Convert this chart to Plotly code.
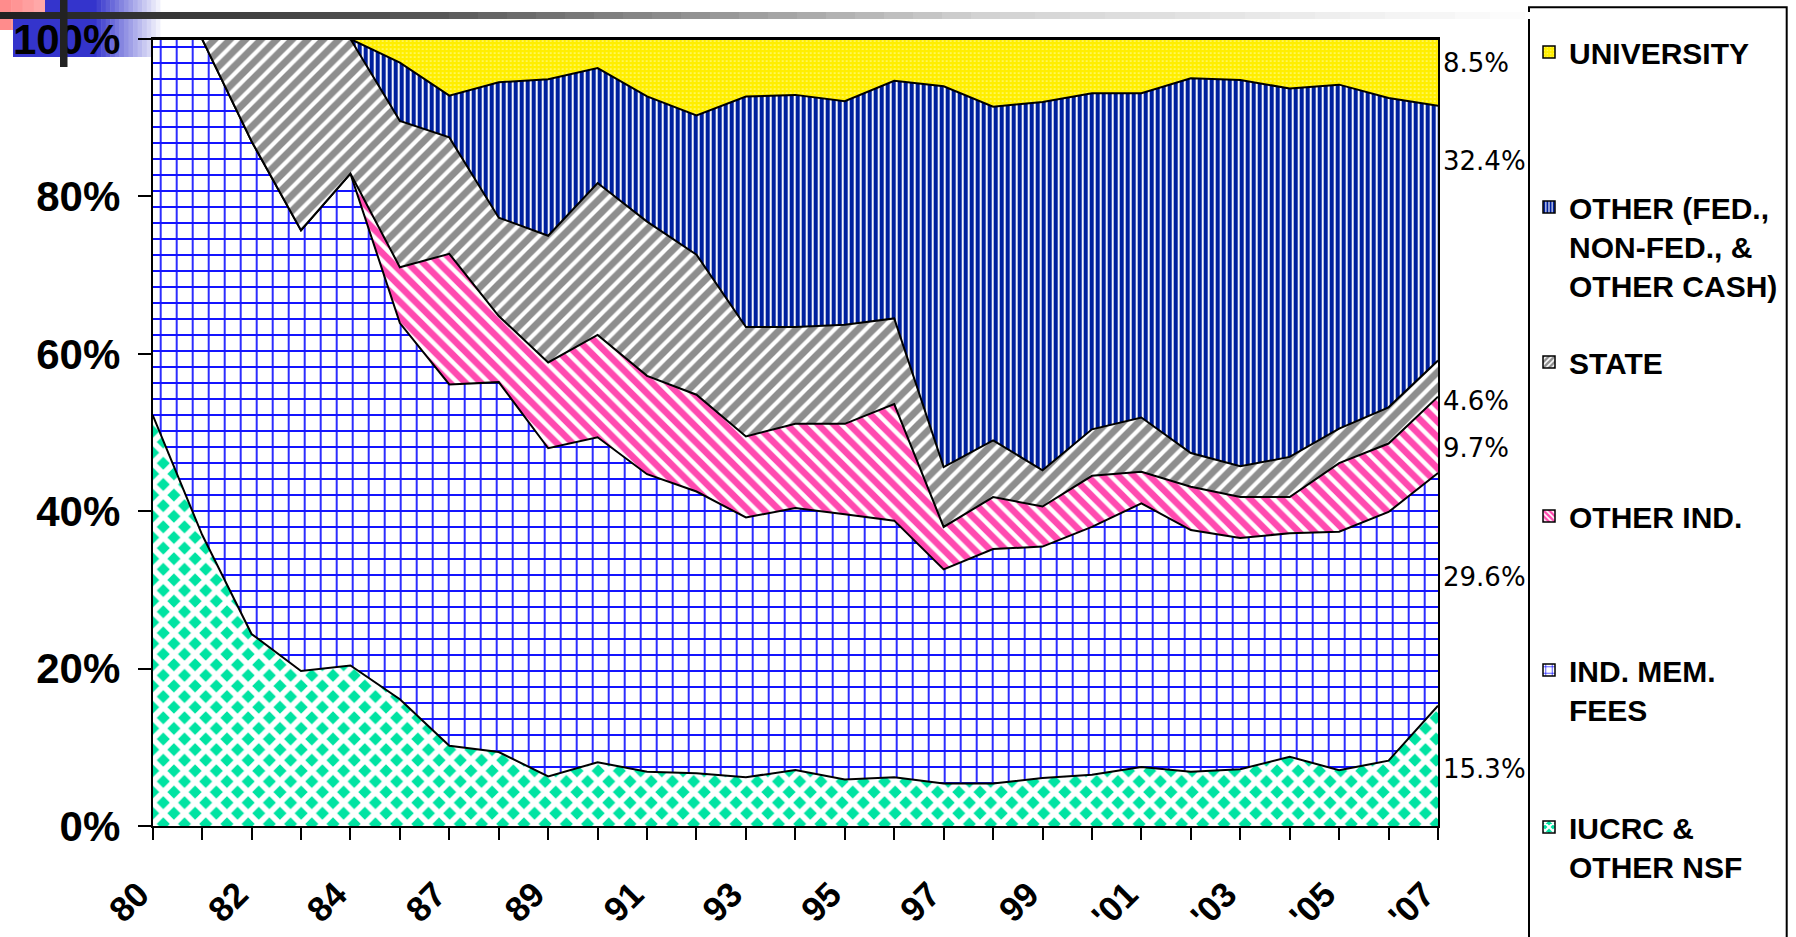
import plotly.graph_objects as go

# ---------------- data (percent of total support) ----------------
years = ["80", "81", "82", "83", "84", "86", "87", "88", "89", "90", "91", "92", "93", "94",
         "95", "96", "97", "98", "99", "'00", "'01", "'02", "'03", "'04", "'05", "'06", "'07"]

iucrc = [52.2, 37.0, 24.4, 19.7, 20.4, 16.1, 10.2, 9.4, 6.3, 8.1, 6.9, 6.7, 6.2, 7.1,
         5.9, 6.2, 5.4, 5.4, 6.1, 6.5, 7.5, 6.9, 7.2, 8.8, 7.1, 8.3, 15.3]
ind_mem = [47.8, 63.0, 62.6, 56.0, 62.5, 47.8, 45.9, 47.0, 41.7, 41.3, 37.8, 35.8, 33.0, 33.3,
           33.7, 32.6, 27.2, 29.8, 29.4, 31.5, 33.5, 30.7, 29.4, 28.4, 30.3, 31.6, 29.6]
other_ind = [0, 0, 0, 0, 0, 7.1, 16.6, 8.4, 10.9, 13.0, 12.5, 12.3, 10.3, 10.7,
             11.5, 14.8, 5.4, 6.6, 5.1, 6.5, 4.0, 5.5, 5.2, 4.6, 8.7, 8.7, 9.7]
state = [0, 0, 13.0, 24.3, 17.1, 18.6, 14.8, 12.5, 16.1, 19.3, 19.6, 17.8, 13.9, 12.3,
         12.6, 10.9, 7.6, 7.2, 4.6, 5.9, 6.9, 4.3, 3.9, 5.1, 4.4, 4.6, 4.6]
other = [0, 0, 0, 0, 0, 7.4, 5.3, 17.2, 19.9, 14.6, 15.9, 17.7, 29.3, 29.5,
         28.4, 30.2, 48.4, 42.4, 46.8, 42.7, 41.2, 47.6, 49.1, 46.8, 43.7, 39.3, 32.4]
university = [0, 0, 0, 0, 0, 3.0, 7.2, 5.5, 5.1, 3.7, 7.3, 9.7, 7.3, 7.1,
              7.9, 5.3, 6.0, 8.6, 8.0, 6.9, 6.9, 5.0, 5.2, 6.3, 5.8, 7.5, 8.5]

y_ticks = [0, 20, 40, 60, 80, 100]

# ---------------- styles ----------------
W, H = 1796, 937
BOLD = "Liberation Sans, Arial, sans-serif"
NB = "\u00a0"

series = [
    dict(name="IUCRC &<br>OTHER NSF", y=iucrc,
         pat=dict(shape="x", fgcolor="#ffffff", bgcolor="#00E3A2", size=15, solidity=0.62)),
    dict(name="IND. MEM.<br>FEES", y=ind_mem,
         pat=dict(shape="+", fgcolor="#1414FF", bgcolor="#ffffff", size=16, solidity=0.21)),
    dict(name="OTHER IND.", y=other_ind,
         pat=dict(shape="\\", fgcolor="#FF4AB0", bgcolor="#ffffff", size=11, solidity=0.6)),
    dict(name="STATE", y=state,
         pat=dict(shape="/", fgcolor="#8E8E8E", bgcolor="#ffffff", size=11, solidity=0.62)),
    dict(name="OTHER (FED.,<br>NON-FED., &<br>OTHER CASH)", y=other,
         pat=dict(shape="|", fgcolor="#00209E", bgcolor="#ffffff", size=6, solidity=0.68)),
    dict(name="UNIVERSITY", y=university,
         pat=dict(shape=".", fgcolor="#FFFF9A", bgcolor="#FFEE00", size=4, solidity=0.15)),
]

fig = go.Figure()
for s in series:
    fig.add_trace(go.Scatter(
        x=years, y=s["y"], mode="lines", stackgroup="one", groupnorm="percent",
        line=dict(color="black", width=2), fillcolor=s["pat"]["bgcolor"],
        fillpattern=s["pat"], showlegend=False, hoverinfo="skip"))

# legend entries (square swatches) — one legend per entry for Excel-like spacing
legend_rows_px = {"UNIVERSITY": 52, "OTHER (FED.,<br>NON-FED., &<br>OTHER CASH)": 207,
                  "STATE": 362, "OTHER IND.": 516, "IND. MEM.<br>FEES": 670,
                  "IUCRC &<br>OTHER NSF": 827}
legend_order = [5, 4, 3, 2, 1, 0]
legend_layouts = {}
for k, idx in enumerate(legend_order):
    s = series[idx]
    nlines = s["name"].count("<br>") + 1
    label = "<br>" * (nlines - 1) + s["name"]
    lname = "legend" if k == 0 else f"legend{k + 1}"
    fig.add_trace(go.Bar(
        x=[None], y=[None], name=label, legend=lname,
        marker=dict(color=s["pat"]["bgcolor"], line=dict(color="black", width=1.5),
                    pattern=dict(shape=s["pat"]["shape"], fgcolor=s["pat"]["fgcolor"],
                                 bgcolor=s["pat"]["bgcolor"], size=max(4, s["pat"]["size"] // 2),
                                 solidity=s["pat"]["solidity"])),
        showlegend=True, hoverinfo="skip"))
    legend_layouts[lname] = dict(
        x=(1549 - 20) / W, y=1 - legend_rows_px[s["name"]] / H, xanchor="left", yanchor="middle",
        bgcolor="rgba(0,0,0,0)", borderwidth=0,
        font=dict(family=BOLD, size=30, color="black", weight="bold"))

# ---------------- layout ----------------
x_dom = [152.7 / W, 1438 / W]
y_dom = [1 - 826 / H, 1 - 39 / H]

fig.update_layout(
    template="none",
    width=W, height=H, margin=dict(l=0, r=0, t=0, b=0, autoexpand=False),
    paper_bgcolor="white", plot_bgcolor="white",
    **legend_layouts,
    xaxis=dict(domain=x_dom, type="category", range=[0, len(years) - 1],
               tickmode="array", tickvals=years,
               ticktext=[y + NB * 2 if i % 2 == 0 else "" for i, y in enumerate(years)],
               tickangle=-45, ticks="outside", ticklen=12, tickwidth=2, tickcolor="black",
               showline=True, linewidth=2, linecolor="black", mirror=True,
               showgrid=False, zeroline=False, ticklabelstandoff=6, automargin=False,
               tickfont=dict(family=BOLD, size=35, color="black", weight="bold")),
    yaxis=dict(domain=y_dom, range=[0, 100], tickmode="array", tickvals=y_ticks,
               ticktext=[f"{v}%" for v in y_ticks],
               ticks="outside", ticklen=13, tickwidth=2, tickcolor="black",
               showline=True, linewidth=2, linecolor="black", mirror=True,
               showgrid=False, zeroline=False, ticklabelstandoff=9, automargin=False,
               tickfont=dict(family=BOLD, size=42, color="black", weight="bold")),
    xaxis2=dict(overlaying="x", anchor="y", range=[0, len(years) - 1], tickmode="linear",
                tick0=0, dtick=1, ticks="inside", ticklen=12, tickwidth=2, tickcolor="black",
                showticklabels=False, showgrid=False, zeroline=False, showline=False,
                automargin=False),
    yaxis2=dict(overlaying="y", anchor="x", side="left", range=[0, 100], tickmode="array",
                tickvals=y_ticks, ticks="inside", ticklen=14, tickwidth=2, tickcolor="black",
                showticklabels=False, showgrid=False, zeroline=False, showline=False,
                automargin=False),
)

# right-hand value labels (last-year shares)
label_y = [97.0, 84.5, 54.0, 48.0, 31.6, 7.2]
for s, ly in zip(reversed(series), label_y):
    fig.add_annotation(x=1441 / W, xref="paper", y=ly, yref="y", xanchor="left",
                       yanchor="middle", showarrow=False, text=f"{s['y'][-1]:.1f}%",
                       font=dict(family="DejaVu Sans", size=26, color="black"))

# legend frame
fig.add_shape(type="rect", xref="paper", yref="paper", x0=1529 / W, x1=1786.7 / W,
              y0=-0.05, y1=1 - 7.3 / H, line=dict(color="black", width=2),
              fillcolor="rgba(0,0,0,0)", layer="above")


# ---------------- slide decoration (top-left) ----------------
def hex2rgb(h):
    h = h.lstrip("#")
    return tuple(int(h[i:i + 2], 16) for i in (0, 2, 4))


def grad(x0, x1, y0, y1, c0, c1, n, layer="below"):
    r0, r1 = hex2rgb(c0), hex2rgb(c1)
    for i in range(n):
        t = i / max(1, n - 1)
        c = tuple(round(a + (b - a) * t) for a, b in zip(r0, r1))
        xa = x0 + (x1 - x0) * i / n
        xb = x0 + (x1 - x0) * (i + 1) / n + 0.5
        fig.add_shape(type="rect", xref="paper", yref="paper", x0=xa / W, x1=xb / W,
                      y0=1 - y1 / H, y1=1 - y0 / H, line=dict(width=0),
                      fillcolor="rgb(%d,%d,%d)" % c, layer=layer)


grad(0, 45, 0, 30, "#FF8C8C", "#FFA8A8", 4)
grad(45, 92, 0, 57, "#3434CC", "#3434CC", 1)
grad(13, 45, 18, 57, "#3434CC", "#3434CC", 1)
grad(92, 165, 0, 57, "#3434CC", "#FFFFFF", 16)
grad(0, 420, 12, 19, "#222222", "#555555", 14, layer="above")
grad(420, 1000, 12, 19, "#585858", "#D2D2D2", 20, layer="above")
grad(1000, 1560, 12, 19, "#D4D4D4", "#FFFFFF", 16, layer="above")
grad(60, 67, 0, 67, "#222222", "#222222", 1, layer="above")

fig.write_html("out.html", config={"displayModeBar": False},
               post_script="document.body.style.margin='0px';document.body.style.overflow='hidden';")
